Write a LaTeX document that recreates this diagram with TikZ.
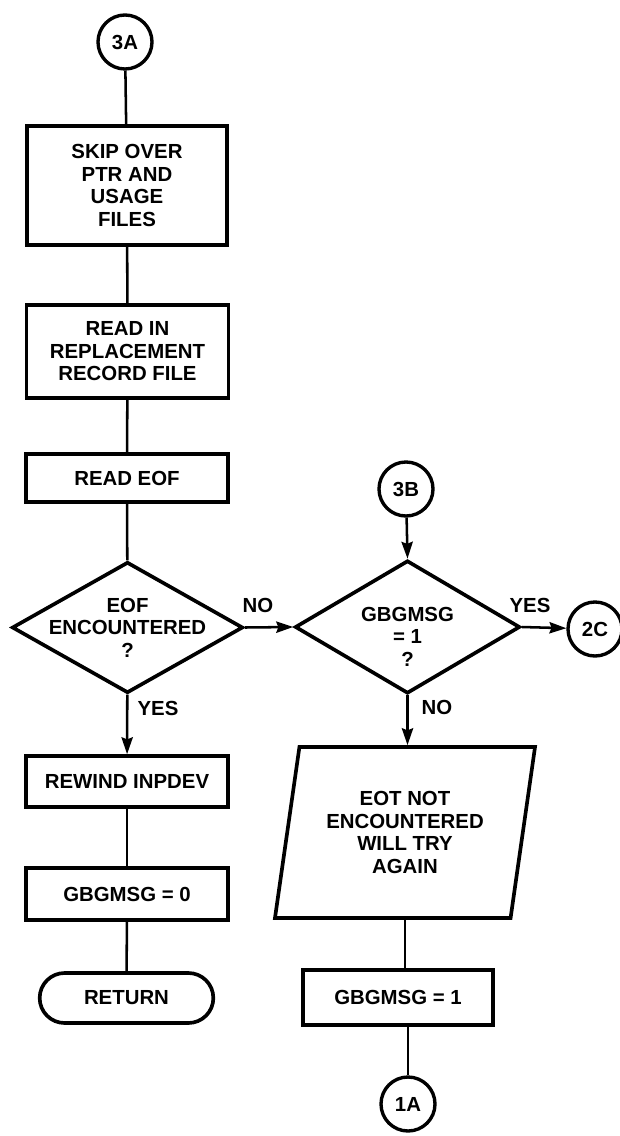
\documentclass[tikz,border=0pt]{standalone}
\usepackage{fontspec}
\setmainfont{Liberation Sans}
\usepackage{tikz}
\usetikzlibrary{arrows.meta}
\usetikzlibrary{shapes.geometric}
\usetikzlibrary{shapes.misc}
\usetikzlibrary{positioning}

\begin{document}
\begin{tikzpicture}[
    x=0.025cm, y=-0.025cm,
    >={Stealth[length=12pt,width=8pt,inset=1.5pt]},
    txt/.style={font=\fontsize{14.5}{16}\selectfont\bfseries,align=center},
    box/.style={txt,draw,rectangle,line width=2.6pt,minimum width=5.05cm},
    conn/.style={draw,circle,txt,line width=2.4pt,minimum size=1.35cm,inner sep=0pt},
    decision/.style={draw,diamond,line width=2.6pt,inner sep=0pt},
    io/.style={txt,draw,trapezium,trapezium left angle=75,trapezium right angle=105,
      trapezium stretches body,line width=2.6pt},
    term/.style={txt,draw,rounded rectangle,line width=2.6pt},
    line/.style={line width=1.8pt}]
    \useasboundingbox (0,0) rectangle (619,1136);
    % left column
    \node[conn] (c3A) at (125,42) {3A};
    \node[box,minimum width=5cm,minimum height=2.975cm] (skip) at (127,185.5)
      {SKIP OVER\\PTR AND\\USAGE\\FILES};
    \node[box,minimum height=2.325cm] (readin) at (127.5,351.5)
      {READ IN\\REPLACEMENT\\RECORD FILE};
    \node[box,minimum height=1.2cm] (readeof) at (127,478) {READ EOF};
    \node[decision,minimum width=5.775cm,minimum height=3.275cm,
      label={[txt]center:EOF\\ENCOUNTERED\\?}] (eofq) at (127.5,627.5) {};
    \node[box,minimum height=1.275cm] (rewind) at (127,781.5) {REWIND INPDEV};
    \node[box,minimum height=1.3cm] (gbgzero) at (127,894) {GBGMSG = 0};
    \node[term,minimum width=4.575cm,minimum height=1.25cm] (ret) at (126.5,998) {RETURN};
    % right column
    \node[conn] (c3B) at (406,489) {3B};
    \node[decision,minimum width=5.625cm,minimum height=3.325cm,
      label={[txt,yshift=-7pt]center:GBGMSG\\= 1\\?}] (gbgq) at (407.5,627) {};
    \node[conn] (c2C) at (595,629) {2C};
    \node[io,minimum width=6.5cm,minimum height=4.275cm] (eot) at (405,832.5)
      {EOT NOT\\ENCOUNTERED\\WILL TRY\\AGAIN};
    \node[box,minimum width=4.75cm,minimum height=1.375cm] (gbgone) at (398,997.5) {GBGMSG = 1};
    \node[conn] (c1A) at (408,1104) {1A};
    % branch labels
    \node[txt] (lno) at (258,605) {NO};
    \node[txt] (lyes) at (530,605) {YES};
    \node[txt] (dyes) at (158,708) {YES};
    \node[txt] (dno) at (437,707) {NO};
    % flow lines
    \draw[line] (c3A) -- (skip);
    \draw[line] (skip) -- (readin);
    \draw[line] (readin) -- (readeof);
    \draw[line] (readeof) -- (eofq);
    \draw[line,->] (eofq) -- (rewind);
    \draw[line] (rewind) -- (gbgzero);
    \draw[line] (gbgzero) -- (ret);
    \draw[line,->] (eofq.east) -- (gbgq.west);
    \draw[line,->] (c3B) -- (gbgq.north);
    \draw[line,->] (gbgq.east) -- (c2C);
    \draw[line,->] (gbgq.south) -- (gbgq.south |- eot.north);
    \draw[line] (eot.south) -- (eot.south |- gbgone.north);
    \draw[line] (c1A.north |- gbgone.south) -- (c1A);
\end{tikzpicture}
\end{document}
